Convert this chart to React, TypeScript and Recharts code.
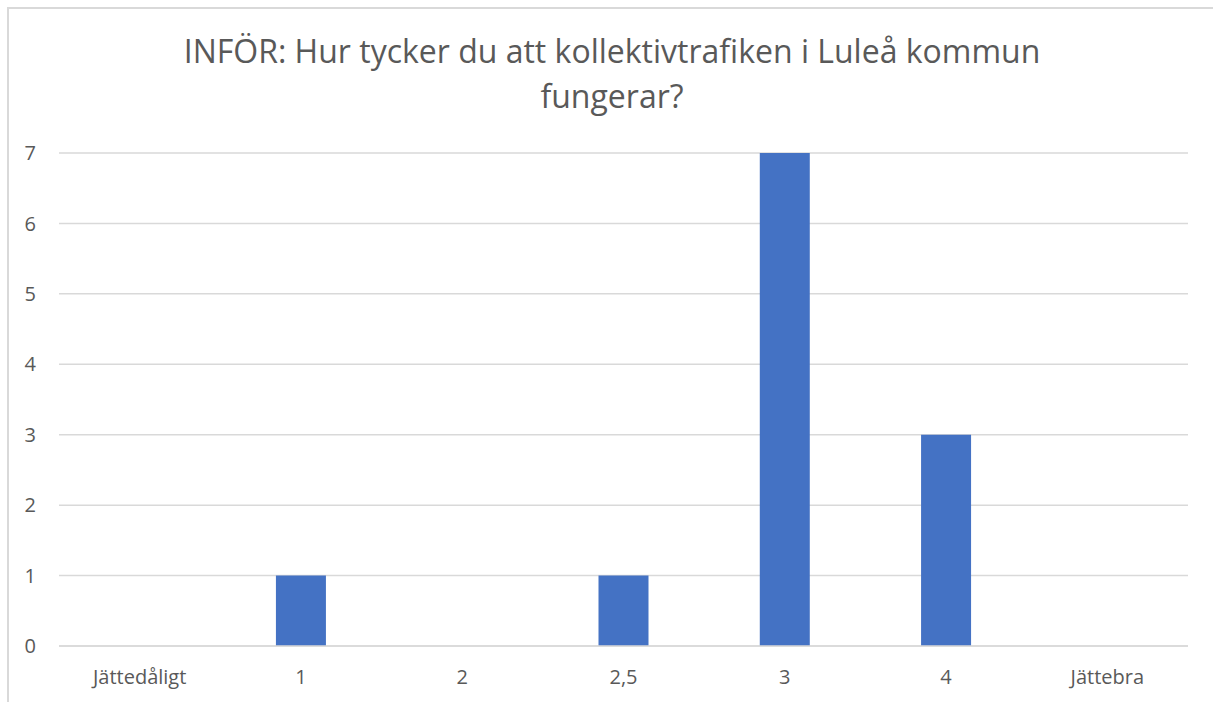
import { BarChart, Bar, XAxis, YAxis, CartesianGrid } from "recharts";

const categories = ["Jättedåligt", "1", "2", "2,5", "3", "4", "Jättebra"];
const counts = [0, 1, 0, 1, 7, 3, 0];
const yTicks = [0, 1, 2, 3, 4, 5, 6, 7];

const data = categories.map((name, i) => ({ name, value: counts[i] }));

const FONT = "'Open Sans', 'Noto Sans', sans-serif";
const TEXT = "#595959";

const App = () => {
  return (
    <div style={{ position: "absolute", left: 0, top: 0, width: 1213, height: 702, background: "#fff", overflow: "hidden", fontFamily: FONT }}>
      <div style={{ position: "absolute", left: 7, top: 7, width: 1240, height: 740, border: "2px solid #d9d9d9", boxSizing: "border-box" }} />
      <div style={{ position: "absolute", left: 0, top: 28, width: 1224, textAlign: "center", fontSize: 32, lineHeight: "45px", color: TEXT }}>
        INFÖR: Hur tycker du att kollektivtrafiken i Luleå kommun
        <br />
        fungerar?
      </div>
      <div style={{ position: "absolute", left: 0, top: 0 }}>
        <BarChart width={1213} height={702} data={data} margin={{ top: 153, right: 25, bottom: 0, left: 0 }} barCategoryGap="34.5%">
          <CartesianGrid vertical={false} stroke="#d9d9d9" strokeWidth={1.5} />
          <XAxis
            dataKey="name"
            height={56}
            tickLine={false}
            axisLine={{ stroke: "#d9d9d9", strokeWidth: 1.5 }}
            tickSize={0}
            tickMargin={24}
            interval={0}
            tick={{ fill: TEXT, fontSize: 20, fontFamily: FONT }}
          />
          <YAxis
            width={59}
            domain={[0, 7]}
            ticks={yTicks}
            axisLine={false}
            tickLine={false}
            tickSize={0}
            tickMargin={23}
            tick={{ fill: TEXT, fontSize: 20, fontFamily: FONT }}
          />
          <Bar dataKey="value" fill="#4472C4" isAnimationActive={false} />
        </BarChart>
      </div>
    </div>
  );
};

export default App;
